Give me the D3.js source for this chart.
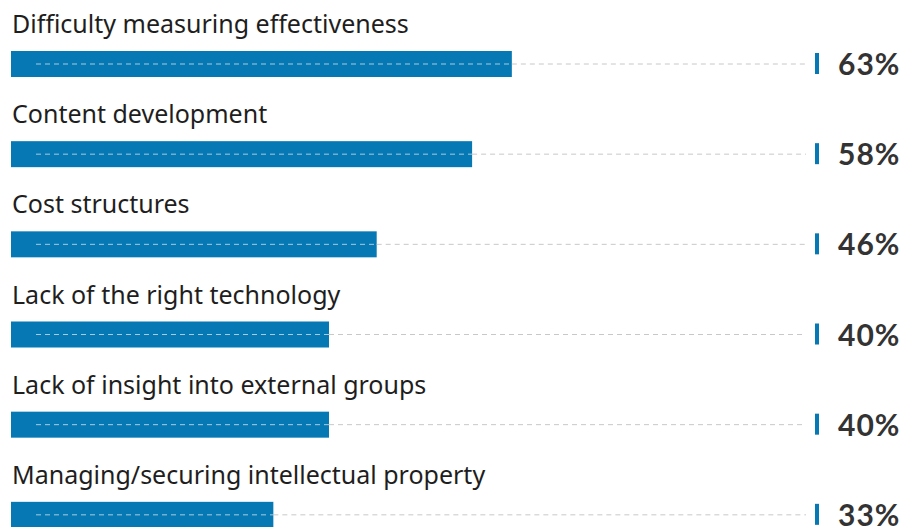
<!DOCTYPE html>
<html>
<head>
<meta charset="utf-8">
<script src="https://cdn.jsdelivr.net/npm/d3@7"></script>
<style>
  body { margin: 0; background: #fff; }
  svg { display: block; }
</style>
</head>
<body>
<div id="chart"></div>
<script>
// data
var categories = [
    "Difficulty measuring effectiveness",
    "Content development",
    "Cost structures",
    "Lack of the right technology",
    "Lack of insight into external groups",
    "Managing/securing intellectual property"
];
var values = [63, 58, 46, 40, 40, 33];
var valueLabels = ["63%", "58%", "46%", "40%", "40%", "33%"];

var rows = categories.map(function (c, i) {
    return {cat: c, value: values[i], label: valueLabels[i]};
});

var width = 920, height = 527;
var blue = "#0679b5";

var svg = d3.select("#chart")
    .append("svg")
    .attr("width", width)
    .attr("height", height);

// x: percent -> pixels, bar starts at left edge
var x = d3.scaleLinear()
    .domain([0, 100])
    .range([11, 806]);

// one band per row
var row = d3.scaleBand()
    .domain(categories)
    .range([0, 541]);

var barTop = 51, barH = 26;

var g = svg.selectAll(".row")
    .data(rows)
    .enter()
    .append("g")
    .attr("class", "row")
    .attr("transform", function (d) { return "translate(0," + row(d.cat) + ")"; });

// category labels
g.append("text")
    .attr("x", 12)
    .attr("y", barTop - 18)
    .style("font-family", "'Noto Sans', sans-serif")
    .style("font-size", "25px")
    .attr("fill", "#1e1e1e")
    .text(function (d) { return d.cat; });

// bars
g.append("rect")
    .attr("x", x(0))
    .attr("y", barTop)
    .attr("width", function (d) { return x(d.value) - x(0); })
    .attr("height", barH)
    .attr("fill", blue);

// dashed guide, light inside the bar
g.append("line")
    .attr("x1", 36)
    .attr("x2", function (d) { return x(d.value); })
    .attr("y1", barTop + barH / 2)
    .attr("y2", barTop + barH / 2)
    .attr("stroke", "#a9cbe0")
    .attr("stroke-width", 1)
    .attr("stroke-dasharray", "5,4");

// and gray outside it
g.append("line")
    .attr("x1", function (d) { return x(d.value); })
    .attr("x2", x(100))
    .attr("y1", barTop + barH / 2)
    .attr("y2", barTop + barH / 2)
    .attr("stroke", "#c8c8c8")
    .attr("stroke-width", 1)
    .attr("stroke-dasharray", "5,4");

// small end marker
g.append("rect")
    .attr("x", x(100) + 9)
    .attr("y", barTop + 2)
    .attr("width", 4)
    .attr("height", barH - 5)
    .attr("fill", blue);

// value labels
g.append("text")
    .attr("x", 838)
    .attr("y", barTop + 24)
    .style("font-family", "Lato, sans-serif")
    .style("font-weight", "bold")
    .style("font-size", "30px")
    .style("letter-spacing", "1px")
    .attr("fill", "#333")
    .text(function (d) { return d.label; });
</script>
</body>
</html>
